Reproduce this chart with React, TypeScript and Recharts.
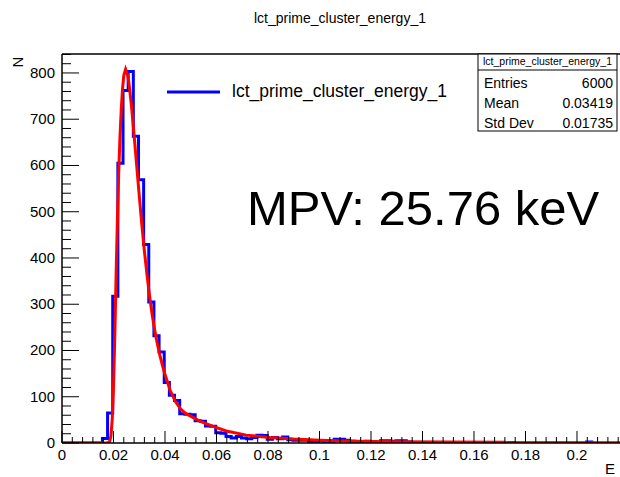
import { Line, LineChart, ReferenceLine, XAxis, YAxis } from "recharts";

// histogram: bin width 0.002, first bin low edge at -0.0003
const binWidth = 0.002;
const histMin = -0.0003;
const counts = [
  0, 0, 0, 0, 0, 0, 0, 0, 10, 65,
  317, 605, 762, 803, 663, 569, 429, 305, 232, 197,
  131, 103, 92, 63, 62, 61, 48, 47, 37, 36,
  22, 21, 14, 11, 14, 11, 9, 12, 17, 16,
  8, 12, 9, 13, 7, 6, 6, 6, 4, 3,
  5, 3, 4, 8, 8, 6, 4, 3, 2, 4,
  3, 1, 5, 5, 4, 5, 5, 2, 0, 0,
  0, 0, 0, 0, 0, 0, 0, 0, 0, 0,
  0, 0, 0, 0, 0, 0, 0, 1, 0, 0,
  0, 0, 0, 0, 0, 0, 0, 0, 0, 0,
  0, 0, 2, 0, 0, 0, 0, 0, 0, 0,
];

// Landau fit curve
const fitX = [
  0, 0.0175, 0.0185, 0.019, 0.0195, 0.02, 0.0205, 0.021, 0.0215, 0.022,
  0.0225, 0.023, 0.0235, 0.024, 0.0247, 0.0255, 0.026, 0.027, 0.028, 0.029,
  0.03, 0.031, 0.032, 0.033, 0.034, 0.035, 0.036, 0.037, 0.038, 0.039,
  0.04, 0.042, 0.044, 0.046, 0.048, 0.051, 0.054, 0.0587, 0.0638, 0.0716,
  0.0807, 0.09, 0.1, 0.11, 0.12, 0.13, 0.15, 0.172, 0.1725, 0.2167,
];
const fitY = [
  0, 0, 3, 15, 50, 120, 230, 360, 480, 580,
  660, 720, 765, 795, 808, 795, 778, 728, 665, 600,
  535, 472, 415, 364, 318, 278, 244, 215, 190, 168,
  148, 114, 90, 74, 64, 55, 46, 36, 26, 17,
  12, 8.5, 6, 4.5, 3.5, 2.8, 2, 1.5, 0.3, 0.2,
];

const xMax = 0.2167;
const yMax = 841;
const xTicks = Array.from({ length: 55 }, (_, i) => i * 0.004);
const yTicks = Array.from({ length: 43 }, (_, i) => i * 20);

const statsRows = [
  ["Entries", "6000"],
  ["Mean", "0.03419"],
  ["Std Dev", "0.01735"],
];

const histName = "lct_prime_cluster_energy_1";
const mpvText = "MPV: 25.76 keV";

const histData = counts.map((c, i) => ({ x: histMin + i * binWidth, y: c }));
histData.push({ x: histMin + counts.length * binWidth, y: counts[counts.length - 1] });
const fitData = fitX.map((x, i) => ({ x, y: fitY[i] }));

const FONT = '"Liberation Sans", Arial, Helvetica, sans-serif';
const W = 620;
const H = 477;
const LEFT = 62;
const TOP = 54;
const BOTTOM = 443;
const X_AXIS_H = 30;
const Y_AXIS_W = 40;

function XTick(props: any) {
  const { x, payload } = props;
  const i = Math.round(payload.value / 0.004);
  const major = i % 5 === 0;
  return (
    <g>
      <line x1={x} x2={x} y1={BOTTOM} y2={BOTTOM - (major ? 12 : 6)} stroke="#000" strokeWidth={1} />
      {major && (
        <text x={x} y={BOTTOM + 17} textAnchor="middle" fontSize={15} fontFamily={FONT} fill="#000">
          {String(Number(payload.value.toFixed(2)))}
        </text>
      )}
    </g>
  );
}

function YTick(props: any) {
  const { y, payload } = props;
  const major = payload.value % 100 === 0;
  return (
    <g>
      <line x1={LEFT} x2={LEFT + (major ? 17 : 9)} y1={y} y2={y} stroke="#000" strokeWidth={1} />
      {major && (
        <text x={55} y={y + 5} textAnchor="end" fontSize={15} fontFamily={FONT} fill="#000">
          {payload.value}
        </text>
      )}
    </g>
  );
}

export default function App() {
  return (
    <div style={{ position: "absolute", left: 0, top: 0, width: W, height: H, background: "#fff", overflow: "hidden" }}>
      <LineChart
        width={W}
        height={H}
        margin={{ top: TOP, right: 0, bottom: H - BOTTOM - X_AXIS_H, left: LEFT - Y_AXIS_W }}
      >
        <XAxis
          type="number"
          dataKey="x"
          domain={[0, xMax]}
          allowDataOverflow
          ticks={xTicks}
          interval={0}
          tick={<XTick />}
          tickLine={false}
          axisLine={{ stroke: "#000", strokeWidth: 1.5 }}
          height={X_AXIS_H}
        />
        <YAxis
          type="number"
          domain={[0, yMax]}
          allowDataOverflow
          ticks={yTicks}
          interval={0}
          tick={<YTick />}
          tickLine={false}
          axisLine={{ stroke: "#000", strokeWidth: 1.5 }}
          width={Y_AXIS_W}
        />
        <ReferenceLine y={yMax} stroke="#000" strokeWidth={1.5} />
        <Line
          data={histData}
          dataKey="y"
          type="stepAfter"
          stroke="#0000ff"
          strokeWidth={3}
          dot={false}
          isAnimationActive={false}
        />
        <Line
          data={fitData}
          dataKey="y"
          type="linear"
          stroke="#ff0000"
          strokeWidth={3}
          dot={false}
          isAnimationActive={false}
        />
      </LineChart>
      <svg width={W} height={H} style={{ position: "absolute", left: 0, top: 0, pointerEvents: "none" }} fontFamily={FONT}>
        <text x={340} y={23} textAnchor="middle" fontSize={14} fill="#000">
          {histName}
        </text>
        <text x={0} y={0} transform="translate(23,62) rotate(-90)" textAnchor="middle" fontSize={15} fill="#000">
          N
        </text>
        <text x={605} y={474} fontSize={15} fill="#000">
          E
        </text>
        <line x1={167} x2={220} y1={92} y2={92} stroke="#0000ff" strokeWidth={3} />
        <text x={232} y={97} fontSize={17.5} fill="#000">
          {histName}
        </text>
        <text x={247} y={225} fontSize={49} fill="#000">
          {mpvText}
        </text>
        <rect x={478} y={54} width={139} height={77} fill="#fff" stroke="#000" strokeWidth={1} />
        <line x1={478} x2={617} y1={70} y2={70} stroke="#000" strokeWidth={1} />
        <text x={547.5} y={65} textAnchor="middle" fontSize={10.5} fill="#000">
          {histName}
        </text>
        {statsRows.map((r, i) => (
          <g key={r[0]}>
            <text x={484} y={88 + i * 20} fontSize={14} fill="#000">
              {r[0]}
            </text>
            <text x={613} y={88 + i * 20} textAnchor="end" fontSize={14} fill="#000">
              {r[1]}
            </text>
          </g>
        ))}
      </svg>
    </div>
  );
}
